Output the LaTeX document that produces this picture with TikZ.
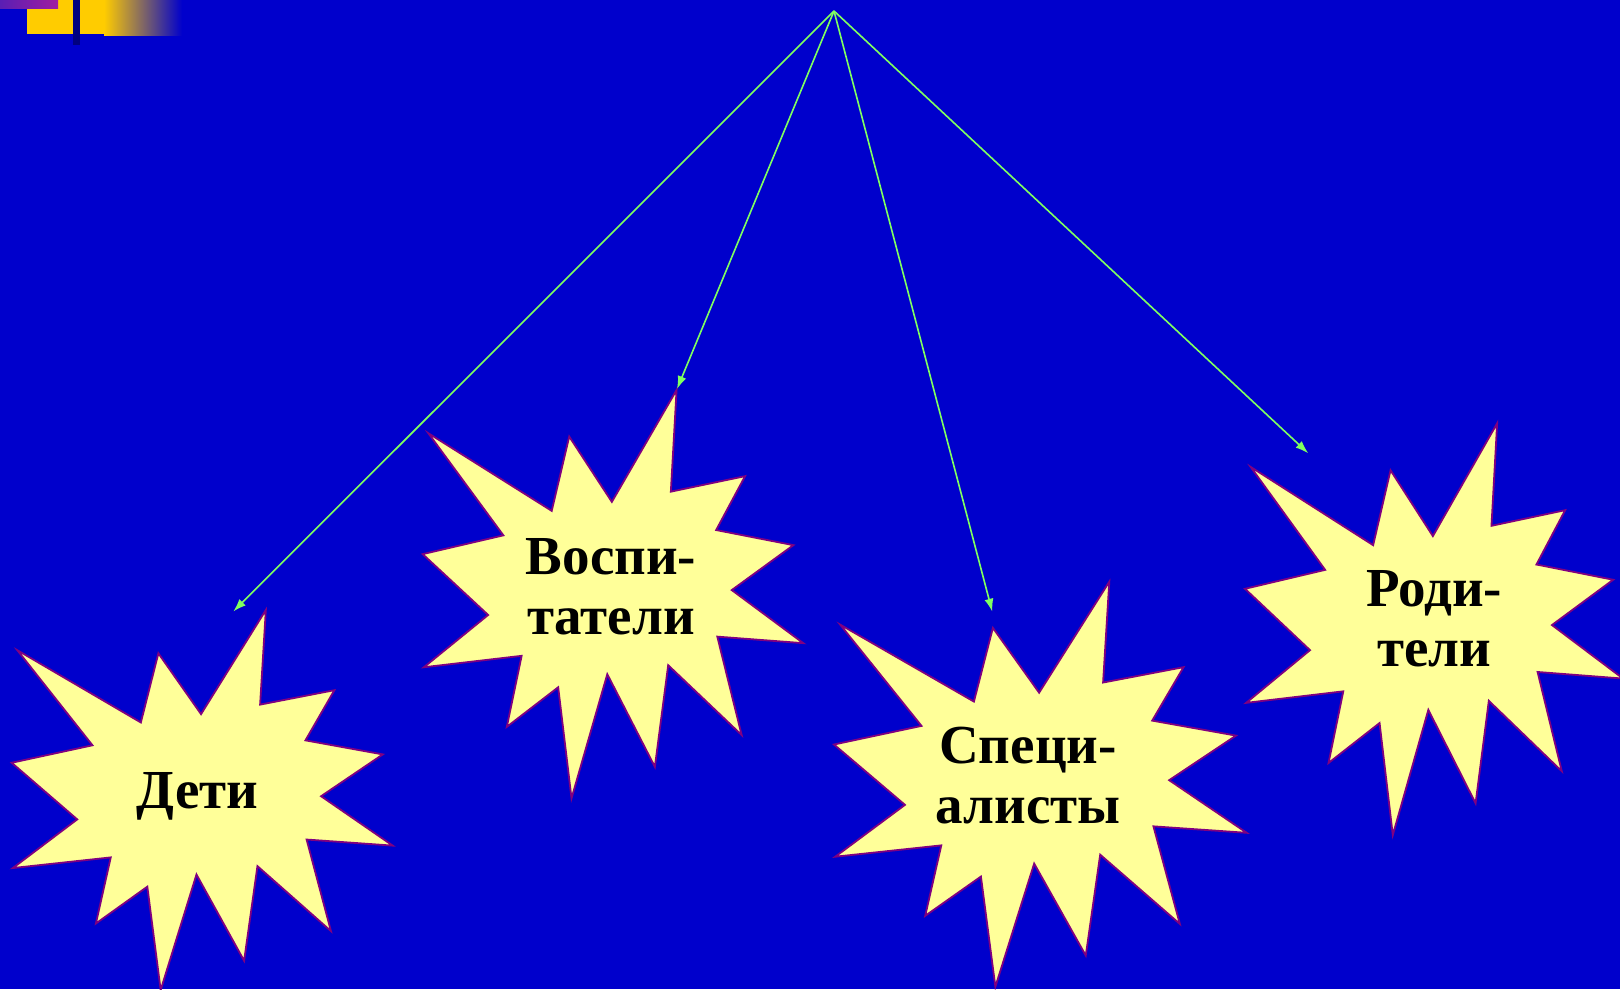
\documentclass[tikz,border=0pt]{standalone}
\usepackage{fontspec}
\setmainfont{Liberation Serif}
\usetikzlibrary{arrows.meta}
\definecolor{bg}{RGB}{0,0,204}
\definecolor{starfill}{RGB}{255,255,153}
\definecolor{starline}{RGB}{128,0,128}
\definecolor{arrowgreen}{RGB}{128,255,96}
\definecolor{gold}{RGB}{255,204,0}
\definecolor{navybar}{RGB}{0,0,128}
\definecolor{purpleL}{RGB}{90,30,180}
\definecolor{purpleR}{RGB}{160,30,160}
\newcommand\explosionpath{(0.667,0) -- (0.652,0.249) -- (0.847,0.211) -- (0.771,0.343) -- (0.974,0.380) -- (0.812,0.490) -- (1.0,0.620) -- (0.774,0.604) -- (0.838,0.845) -- (0.645,0.674) -- (0.610,0.923) -- (0.485,0.696) -- (0.391,1.0) -- (0.356,0.728) -- (0.221,0.825) -- (0.260,0.651) -- (0.003,0.679) -- (0.172,0.551) -- (0,0.402) -- (0.212,0.356) -- (0.015,0.106) -- (0.339,0.296) -- (0.385,0.114) -- (0.497,0.274) -- cycle}
\newcommand\drawexplosion[4]{%
  \begin{scope}[shift={(#1,#2)}, xscale=#3, yscale=#4]
    \draw[explosion] \explosionpath;
  \end{scope}}
\tikzset{
  explosion/.style={fill=starfill, draw=starline, line width=1.8pt, line join=miter},
  startext/.style={font=\bfseries\fontsize{55}{64}\selectfont, align=center, inner sep=0pt, anchor=base, text=black},
  link/.style={draw=arrowgreen, line width=1.6pt, -{Latex[length=13pt,width=9pt]}}
}
\begin{document}
\begin{tikzpicture}[x=1pt, y=-1pt]
\useasboundingbox (0,0) rectangle (1620,989);
\fill[bg] (0,0) rectangle (1620,989);
% top-left decoration
\fill[gold] (27,0) rectangle (104,34);
\shade[left color=gold, right color=bg] (104,0) rectangle (182,35);
\fill[navybar] (73.3,0) rectangle (80,45);
\shade[left color=purpleL, right color=purpleR] (0,0) rectangle (58,8);
% stars
\drawexplosion{11.7}{610}{381}{380}
\drawexplosion{422.7}{390}{380.6}{408.3}
\drawexplosion{834}{581.7}{412.7}{405}
\drawexplosion{1245}{423.3}{378}{411.7}
% texts
\node[startext] (deti) at (197.5,808) {Дети};
\node[startext] (vosp) at (611,634) {Воспи-\\[-4pt]татели};
\node[startext] (spec) at (1028,823) {Специ-\\[-4pt]алисты};
\node[startext] (rodi) at (1434,666) {Роди-\\[-4pt]тели};
% connectors
\coordinate (apex) at (834,11);
\coordinate (tipDeti) at (233.3,611.5);
\coordinate (tipVosp) at (677,389);
\coordinate (tipSpec) at (992.3,611.7);
\coordinate (tipRodi) at (1308.3,453.3);
\draw[link] (apex) -- (tipDeti);
\draw[link] (apex) -- (tipVosp);
\draw[link] (apex) -- (tipSpec);
\draw[link] (apex) -- (tipRodi);
\end{tikzpicture}
\end{document}
